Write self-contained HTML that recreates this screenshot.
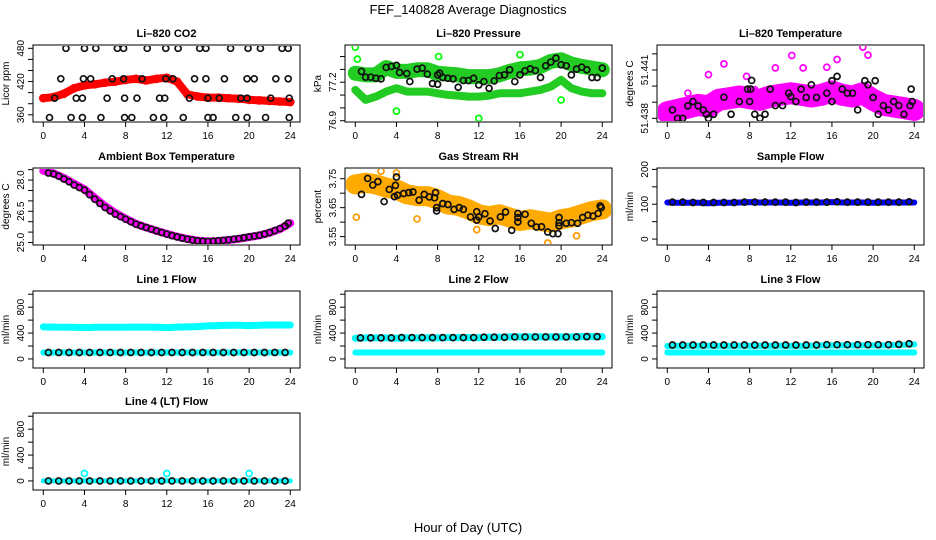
<!DOCTYPE html>
<html><head><meta charset="utf-8"><style>
html,body{margin:0;padding:0;background:#fff;}
svg{display:block;font-family:"Liberation Sans",Arial,sans-serif;}
</style></head><body>
<svg id="chart" width="936" height="540" viewBox="0 0 936 540" xmlns="http://www.w3.org/2000/svg">
<text x="468" y="14" text-anchor="middle" font-size="13">FEF_140828  Average Diagnostics</text>
<text x="468" y="532" text-anchor="middle" font-size="13">Hour of Day (UTC)</text>
</svg>
<script>
const hoursHourly = [0,1,2,3,4,5,6,7,8,9,10,11,12,13,14,15,16,17,18,19,20,21,22,23,24];
const xTicks = [0,4,8,12,16,20,24];

const co2Band = [390,392,398,408,413,415,418,420,423,425,422,425,427,420,397,393,391,391,390,389,387,386,385,384,383];
const co2BlackHours = [2.2,4.0,5.1,7.2,7.8,10.1,11.9,13.1,15.2,15.8,18.2,19.9,21.1,23.2,23.8,
 1.7,3.9,4.6,6.7,7.8,9.6,11.9,12.6,14.7,15.8,17.6,19.8,20.5,22.6,23.8,
 1.1,3.2,3.8,6.2,7.9,9.1,11.3,11.8,14.2,16.0,17.1,19.2,19.8,22.1,23.9,
 0.6,2.7,3.8,5.6,7.9,8.6,10.7,11.7,13.6,16.0,16.5,18.7,19.8,21.6,23.9];
const co2BlackValues = [480,480,480,480,480,480,480,480,480,480,480,480,480,480,480,
 425,425,425,425,425,425,425,425,425,425,425,425,425,425,425,
 390,390,390,390,390,390,390,390,390,390,390,390,390,390,390,
 355,355,355,355,355,355,355,355,355,355,355,355,355,355,355];

const presUpper = [77.27,77.257,77.257,77.315,77.284,77.284,77.297,77.297,77.27,77.263,77.257,77.244,77.244,77.244,77.257,77.284,77.304,77.31,77.323,77.362,77.375,77.341,77.323,77.31,77.297];
const presLower = [77.14,77.062,77.088,77.127,77.153,77.127,77.127,77.127,77.114,77.101,77.096,77.088,77.088,77.096,77.114,77.114,77.114,77.127,77.14,77.166,77.218,77.153,77.127,77.114,77.114];
const presOutHours = [0,0.2,4,8.1,12,16,20];
const presOutValues = [77.472,77.38,76.975,77.40,76.918,77.414,77.062];
const presBlackHours = [0.6,1,1.5,2,2.5,3,3.5,4,4.3,5,5.3,6,6.5,7,7.5,8,8,8.2,8.5,9,9.5,10,10.5,11,11.5,12,12.5,13,13.5,14,14.5,15,15.5,16,16.5,17,17.5,18,18.5,19,19.5,20,20.5,21,21.5,22,22.5,23,23.5,24];
const presBlackValues = [77.284,77.239,77.239,77.231,77.226,77.315,77.323,77.331,77.276,77.268,77.205,77.302,77.31,77.263,77.19,77.184,77.257,77.27,77.237,77.231,77.226,77.161,77.213,77.213,77.231,77.179,77.205,77.153,77.21,77.252,77.257,77.297,77.205,77.257,77.289,77.304,77.291,77.237,77.328,77.357,77.388,77.336,77.328,77.257,77.302,77.317,77.297,77.237,77.237,77.31];

const tempBand = [51.43838,51.43852,51.43867,51.43883,51.43873,51.43915,51.43925,51.43935,51.43925,51.43915,51.43935,51.43946,51.43956,51.43946,51.43935,51.43946,51.43967,51.43946,51.43935,51.43956,51.43915,51.43883,51.43873,51.43863,51.43852];
const tempOutHours = [5.5,7.7,12.1,16.5,19,19.5,15.5,10.5,13.2,8.5,4,2];
const tempOutValues = [51.44138,51.4406,51.4419,51.44165,51.44242,51.44192,51.44117,51.44113,51.44113,51.43977,51.44071,51.43956];
const tempBlackHours = [0.5,1,1.5,2,2.5,3,3.5,3.8,4,4.5,5.5,6.2,7,7.8,8,8.1,8.2,8.5,9,9.5,10,10.5,11.2,11.8,12,12.5,13,13.5,14,14.5,15.5,16,16,16.5,17,17.5,18,18.5,19.2,19.5,20,20.2,20.5,21,21.5,22,22.5,23,23.6,23.7,23.8];
const tempBlackValues = [51.43852,51.438,51.438,51.43877,51.43904,51.43877,51.43852,51.43825,51.438,51.43825,51.43931,51.43825,51.43904,51.43981,51.43904,51.43981,51.44035,51.43825,51.438,51.43825,51.43981,51.43879,51.43879,51.43956,51.43935,51.43904,51.43981,51.43929,51.44008,51.43929,51.43956,51.44033,51.43904,51.4406,51.43981,51.43956,51.43956,51.43852,51.44033,51.44008,51.43929,51.44033,51.43825,51.43879,51.43852,51.43904,51.43879,51.43825,51.43879,51.43981,51.43904];

const ambBand = [28.45,28.32,28.1,27.82,27.55,27.15,26.75,26.42,26.15,25.9,25.72,25.56,25.42,25.28,25.17,25.09,25.05,25.07,25.12,25.18,25.26,25.34,25.47,25.65,25.93];
const ambBlackHours = [0.5,1,1.5,2,2.5,3,3.5,4,4.5,5,5.5,6,6.5,7,7.5,8,8.5,9,9.5,10,10.5,11,11.5,12,12.5,13,13.5,14,14.5,15,15.5,16,16.5,17,17.5,18,18.5,19,19.5,20,20.5,21,21.5,22,22.5,23,23.5,23.8];
const ambBlackValues = [28.34,28.29,28.19,28.05,27.92,27.76,27.64,27.52,27.3,27.08,26.88,26.68,26.52,26.36,26.24,26.12,26.0,25.88,25.8,25.72,25.64,25.56,25.48,25.40,25.33,25.27,25.21,25.16,25.12,25.08,25.06,25.05,25.06,25.08,25.1,25.13,25.16,25.19,25.23,25.27,25.31,25.35,25.41,25.48,25.57,25.67,25.8,25.93];

const rhBand = [3.7305,3.736,3.7305,3.719,3.713,3.696,3.69,3.69,3.679,3.661,3.656,3.644,3.627,3.621,3.627,3.616,3.604,3.61,3.604,3.598,3.61,3.616,3.627,3.638,3.644];
const rhOutHours = [0.1,2.5,6,18.7,21.5,11.8,4];
const rhOutValues = [3.617,3.776,3.611,3.528,3.553,3.574,3.77];
const rhBlackHours = [0.6,1.2,1.7,2.2,2.8,3.3,3.8,3.9,4,4.1,4.7,5.2,5.6,6.2,6.7,7.2,7.7,7.8,7.9,7.9,8.5,9,9.6,10.1,10.5,11.2,11.8,11.8,12,12.6,13.1,13.6,14.1,14.6,15.2,15.8,15.8,15.8,16.5,17.1,17.6,18.1,18.7,19.2,19.7,19.8,19.8,19.8,20.5,21,21.6,22.1,22.6,23.1,23.6,23.8,23.9];
const rhBlackValues = [3.696,3.751,3.728,3.74,3.671,3.713,3.688,3.727,3.756,3.693,3.699,3.702,3.704,3.676,3.696,3.687,3.684,3.702,3.65,3.639,3.664,3.661,3.644,3.65,3.644,3.618,3.607,3.636,3.618,3.629,3.604,3.578,3.618,3.635,3.572,3.63,3.601,3.616,3.627,3.596,3.583,3.584,3.566,3.56,3.56,3.587,3.598,3.616,3.596,3.598,3.596,3.616,3.624,3.621,3.63,3.656,3.65];

const sampleBand = [105,104,104,104,103,104,104,105,106,105,105,105,104,105,105,105,106,105,105,105,104,105,105,105,105];
const sampleBlack = [106,106,105,105,105,105,105,106,106,106,106,106,105,106,106,106,107,106,106,106,106,106,106,107];
const halfHours = [0.5,1.5,2.5,3.5,4.5,5.5,6.5,7.5,8.5,9.5,10.5,11.5,12.5,13.5,14.5,15.5,16.5,17.5,18.5,19.5,20.5,21.5,22.5,23.5];

const line1Upper = [495,492,490,490,485,490,490,490,490,492,492,490,485,492,495,500,510,515,520,522,515,520,525,525,525];
const line1Lower = [100,100,100,100,100,100,100,100,100,100,100,100,100,100,100,100,100,100,100,100,100,100,100,100,100];
const line1Black = [100,100,100,100,100,100,100,100,100,100,100,100,100,100,100,100,100,100,100,100,100,100,100,100];
const line2Upper = [320,325,325,325,320,325,325,325,325,330,330,330,330,335,335,340,340,340,340,340,340,340,345,345,345];
const line2Lower = [100,100,100,100,100,100,100,100,100,100,100,100,100,100,100,100,100,100,100,100,100,100,100,100,100];
const line2Black = [325,325,325,325,330,330,330,330,330,330,330,330,335,335,335,340,340,340,340,340,340,340,345,345];
const line3Upper = [200,205,205,205,205,205,205,205,205,205,205,205,205,205,205,210,210,210,210,210,210,210,215,220,225];
const line3Lower = [100,100,100,100,100,100,100,100,100,100,100,100,100,100,100,100,100,100,100,100,100,100,100,100,100];
const line3Black = [215,215,215,215,215,215,215,215,215,215,215,215,215,215,215,220,220,220,220,220,220,220,225,235];
const line4Cyan = [0,0,0,0,0,0,0,0,0,0,0,0,0,0,0,0,0,0,0,0,0,0,0,0,0];
const line4OutHours = [4,12,20];
const line4OutValues = [115,115,115];
const line4Black = [0,0,0,0,0,0,0,0,0,0,0,0,0,0,0,0,0,0,0,0,0,0,0,0];

const NS = "http://www.w3.org/2000/svg";
const svg = document.getElementById('chart');
function mk(tag, attrs, parent){
  const e = document.createElementNS(NS, tag);
  for (const k in attrs) e.setAttribute(k, attrs[k]);
  (parent||svg).appendChild(e);
  return e;
}
const colL = [33,345,657], rowT = [45,168,291,413], PW = 267, PH = 77;

function panel(name, col, row, title, ylab, ymin, ymax, tickVals, labelVals, fmt){
  const L = colL[col], T = rowT[row];
  const g = mk('g', {});
  
  
  const xs = h => L + 10.3 + h * 10.29;
  const ys = v => T + PH - (v - ymin) / (ymax - ymin) * PH;
  const t = mk('text', {x: L + PW/2, y: T - 8, 'text-anchor':'middle', 'font-size':11, 'font-weight':'bold'}, g);
  t.textContent = title;
  
  
  const yl = mk('text', {x: L - 24, y: T + PH/2, 'text-anchor':'middle', 'font-size':10, transform:'rotate(-90 ' + (L-24) + ' ' + (T+PH/2) + ')'}, g);
  yl.textContent = ylab;
  
  
  const plot = mk('g', {}, g);
  
  
  const box = mk('rect', {x: L, y: T, width: PW, height: PH, fill:'none', stroke:'#000', 'stroke-width':1}, g);
  
  
  xTicks.forEach(h => {
    const x = xs(h);
    const tk = mk('line', {x1:x, x2:x, y1:T+PH, y2:T+PH+5, stroke:'#000'}, g);
    
    
    const lb = mk('text', {x:x, y:T+PH+17, 'text-anchor':'middle', 'font-size':10}, g);
    lb.textContent = h;
    
    
  });
  tickVals.forEach(v => {
    const y = ys(v);
    const tk = mk('line', {x1:L-5, x2:L, y1:y, y2:y, stroke:'#000'}, g);
    
    
  });
  labelVals.forEach(v => {
    const y = ys(v), x = L - 9;
    const lb = mk('text', {x:x, y:y, 'text-anchor':'middle', 'font-size':10, transform:'rotate(-90 ' + x + ' ' + y + ')'}, g);
    lb.textContent = fmt ? fmt(v) : v;
    
    
  });
  const clipId = name + '-clip';
  const cp = mk('clipPath', {id: clipId}, g);
  mk('rect', {x:L+1, y:T+1, width:PW-2, height:PH-2}, cp);
  plot.setAttribute('clip-path', 'url(#' + clipId + ')');
  g.appendChild(box);
  return {
    band(hs, vals, color, w, label){
      const pts = hs.map((h,i) => xs(h).toFixed(1) + ',' + ys(vals[i]).toFixed(1)).join(' ');
      const pl = mk('polyline', {points: pts, fill:'none', stroke: color, 'stroke-width': w, 'stroke-linejoin':'round', 'stroke-linecap':'round'}, plot);
      
      
    },
    points(hs, vals, color, label, r){
      hs.forEach((h,i) => {
        const c = mk('circle', {cx: xs(h), cy: ys(vals[i]), r: r||3, fill:'none', stroke: color, 'stroke-width':1.7}, plot);
        
        
      });
    }
  };
}
const BLK = '#111';

let p = panel('co2', 0, 0, 'Li\u2013820 CO2', 'Licor ppm', 347, 486, [360,380,400,420,440,460,480], [360,420,480]);
p.band(hoursHourly, co2Band, '#ff0000', 8, 'co2-band');
p.points(hoursHourly, co2Band, '#ff0000', 'co2-point', 3.5);
p.points(co2BlackHours, co2BlackValues, BLK, 'co2-average-point');

p = panel('pressure', 1, 0, 'Li\u2013820 Pressure', 'kPa', 76.89, 77.49, [76.9,77.0,77.1,77.2,77.3,77.4], [76.9,77.2], v => v.toFixed(1));
p.band(hoursHourly, presUpper, '#22cc22', 15, 'pressure-upper-band');
p.band(hoursHourly, presLower, '#22cc22', 8, 'pressure-lower-band');
p.points(presOutHours, presOutValues, '#00ff00', 'pressure-outlier');
p.points(presBlackHours, presBlackValues, BLK, 'pressure-average-point');

p = panel('licor-temp', 2, 0, 'Li\u2013820 Temperature', 'degrees C', 51.43777, 51.44255, [51.438,51.439,51.44,51.441,51.442], [51.438,51.441], v => v.toFixed(3));
p.band(hoursHourly, tempBand, '#ff00ff', 22, 'licor-temp-band');
p.points(tempOutHours, tempOutValues, '#ff00ff', 'licor-temp-outlier');
p.points(tempBlackHours, tempBlackValues, BLK, 'licor-temp-average-point');

p = panel('ambient-temp', 0, 1, 'Ambient Box Temperature', 'degrees C', 24.88, 28.58, [25,25.5,26,26.5,27,27.5,28,28.5], [25,26.5,28], v => v.toFixed(1));
p.band(hoursHourly, ambBand, '#ff00ff', 8, 'ambient-temp-band');
p.points(ambBlackHours, ambBlackValues, BLK, 'ambient-temp-average-point');

p = panel('rh', 1, 1, 'Gas Stream RH', 'percent', 3.521, 3.787, [3.55,3.6,3.65,3.7,3.75], [3.55,3.65,3.75], v => v.toFixed(2));
p.band(hoursHourly, rhBand, '#ffaa00', 20, 'rh-band');
p.points(rhOutHours, rhOutValues, '#ff9900', 'rh-outlier');
p.points(rhBlackHours, rhBlackValues, BLK, 'rh-average-point');

p = panel('sample-flow', 2, 1, 'Sample Flow', 'ml/min', -17, 204, [0,50,100,150,200], [0,100,200]);
p.band(hoursHourly, sampleBand, '#0000ff', 6, 'sample-flow-band');
p.points(halfHours, sampleBlack, BLK, 'sample-flow-average-point');

p = panel('line1-flow', 0, 2, 'Line 1 Flow', 'ml/min', -140, 1050, [0,200,400,600,800,1000], [0,400,800]);
p.band(hoursHourly, line1Upper, '#00ffff', 7, 'line1-upper-band');
p.band(hoursHourly, line1Lower, '#00ffff', 6, 'line1-lower-band');
p.points(halfHours, line1Black, BLK, 'line1-average-point');

p = panel('line2-flow', 1, 2, 'Line 2 Flow', 'ml/min', -140, 1050, [0,200,400,600,800,1000], [0,400,800]);
p.band(hoursHourly, line2Upper, '#00ffff', 7, 'line2-upper-band');
p.band(hoursHourly, line2Lower, '#00ffff', 6, 'line2-lower-band');
p.points(halfHours, line2Black, BLK, 'line2-average-point');

p = panel('line3-flow', 2, 2, 'Line 3 Flow', 'ml/min', -140, 1050, [0,200,400,600,800,1000], [0,400,800]);
p.band(hoursHourly, line3Upper, '#00ffff', 6, 'line3-upper-band');
p.band(hoursHourly, line3Lower, '#00ffff', 6, 'line3-lower-band');
p.points(halfHours, line3Black, BLK, 'line3-average-point');

p = panel('line4-flow', 0, 3, 'Line 4 (LT) Flow', 'ml/min', -140, 1050, [0,200,400,600,800,1000], [0,400,800]);
p.band(hoursHourly, line4Cyan, '#00ffff', 5, 'line4-band');
p.points(line4OutHours, line4OutValues, '#00ffff', 'line4-outlier');
p.points(halfHours, line4Black, BLK, 'line4-average-point');
</script>
</body></html>
